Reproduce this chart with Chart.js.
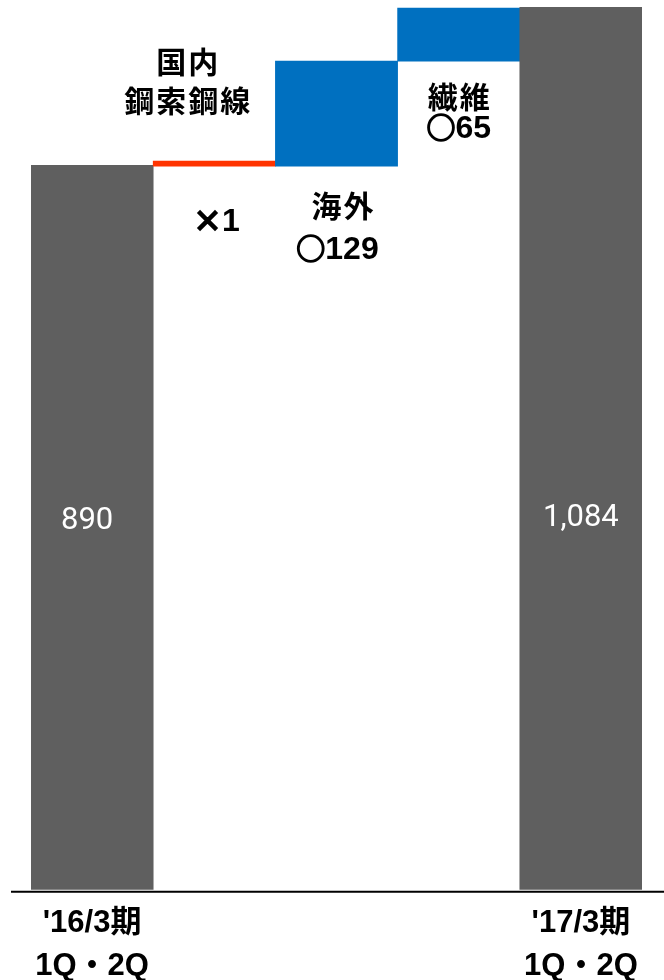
<!DOCTYPE html>
<html>
<head>
<meta charset="utf-8">
<script src="https://cdn.jsdelivr.net/npm/chart.js@4"></script>
<style>
  html, body { margin: 0; padding: 0; background: #fff; overflow: hidden; }
  #wrap { position: relative; width: 664px; height: 1000px; }
</style>
</head>
<body>
<div id="wrap"><canvas id="c"></canvas></div>
<script>
// ---- data ----
const categories = [["'16/3期", "1Q・2Q"], "", "", "", ["'17/3期", "1Q・2Q"]];
const startValue = 890;
const endValue = 1084;
const changeNames = [["国内", "鋼索鋼線"], ["海外"], ["繊維"]];
const changeValues = [-1, 129, 65];
const changeMarks = ["×", "○", "○"];
const totalLabels = ["890", "1,084"];

// ---- build waterfall floats from the arrays ----
const floats = [[0, startValue]];
let run = startValue;
changeValues.forEach(v => {
  const next = run + v;
  floats.push([Math.min(run, next), Math.max(run, next)]);
  run = next;
});
floats.push([0, endValue]);

const GRAY = '#5f5f5f', BLUE = '#0070c0', RED = '#ff3300';
const colors = [GRAY].concat(changeValues.map(v => v < 0 ? RED : BLUE), [GRAY]);

const CJK = "'Noto Sans CJK JP', 'Noto Sans', sans-serif";
const LAT = "'Liberation Sans', Arial, sans-serif";

function drawMarkValue(ctx, mark, num, cx, cy) {
  const markFont = "bold 29px " + CJK;
  const numFont = "bold 32px " + LAT;
  ctx.font = markFont;
  const mw = ctx.measureText(mark).width;
  ctx.font = numFont;
  const nw = ctx.measureText(num).width;
  const left = cx - (mw + nw) / 2;
  ctx.textAlign = 'left';
  ctx.font = markFont;
  ctx.fillText(mark, left, cy - 1);
  ctx.lineWidth = 1.6;
  ctx.strokeStyle = '#000';
  ctx.strokeText(mark, left, cy - 1);
  ctx.font = numFont;
  ctx.fillText(num, left + mw, cy);
  ctx.textAlign = 'center';
}

function drawName(ctx, text, cx, cy) {
  ctx.font = "bold 30px " + CJK;
  ctx.letterSpacing = '2px';
  ctx.fillText(text, cx + 1, cy);
  ctx.letterSpacing = '0px';
}

const annot = {
  id: 'annot',
  afterDatasetsDraw(chart) {
    const ctx = chart.ctx;
    const els = chart.getDatasetMeta(0).data;
    const ys = chart.scales.y;
    const y0 = ys.getPixelForValue(0);
    ctx.save();
    // baseline
    ctx.strokeStyle = '#000';
    ctx.lineWidth = 2;
    ctx.beginPath();
    ctx.moveTo(11, y0 + 2);
    ctx.lineTo(chart.width, y0 + 2);
    ctx.stroke();

    ctx.textAlign = 'center';
    ctx.textBaseline = 'middle';
    // totals
    ctx.fillStyle = '#fff';
    ctx.font = "400 31px Roboto, 'Liberation Sans', sans-serif";
    ctx.fillText(totalLabels[0], els[0].x - 5, 521);
    ctx.fillText(totalLabels[1], els[els.length - 1].x, 518);

    // change annotations
    ctx.fillStyle = '#000';
    drawName(ctx, changeNames[0][0], els[1].x - 27, 62);
    drawName(ctx, changeNames[0][1], els[1].x - 27, 101);
    drawMarkValue(ctx, changeMarks[0], String(Math.abs(changeValues[0])), els[1].x + 2, 222);
    drawName(ctx, changeNames[1][0], els[2].x + 6, 206);
    drawMarkValue(ctx, changeMarks[1], String(Math.abs(changeValues[1])), els[2].x + 1, 250);
    drawName(ctx, changeNames[2][0], els[3].x, 97);
    drawMarkValue(ctx, changeMarks[2], String(Math.abs(changeValues[2])), els[3].x, 129);
    ctx.restore();
  }
};

new Chart(document.getElementById('c'), {
  type: 'bar',
  data: {
    labels: categories,
    datasets: [{
      data: floats,
      backgroundColor: colors,
      borderWidth: 0,
      barPercentage: 1,
      categoryPercentage: 1,
      minBarLength: 5
    }]
  },
  options: {
    responsive: true,
    maintainAspectRatio: false,
    animation: false,
    layout: { padding: { left: 31, right: 22, top: 0, bottom: 0 } },
    plugins: { legend: { display: false }, tooltip: { enabled: false } },
    scales: {
      x: {
        grid: { display: false, drawTicks: false },
        border: { display: false },
        ticks: {
          color: '#000',
          padding: 12,
          maxRotation: 0,
          autoSkip: false,
          font: { family: "'Liberation Sans', 'Noto Sans CJK JP', sans-serif", size: 31, weight: 'bold', lineHeight: 1.39 }
        }
      },
      y: {
        display: false,
        min: 0,
        max: 1093
      }
    }
  },
  plugins: [annot]
});
</script>
</body>
</html>
